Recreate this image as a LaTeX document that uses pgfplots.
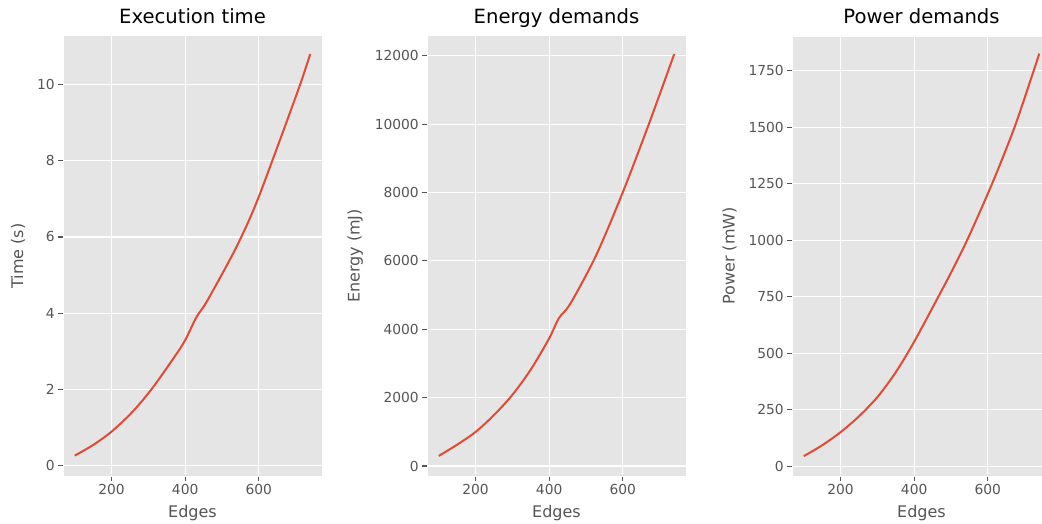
\documentclass[border=0pt]{standalone}
\usepackage{pgfplots}
\pgfplotsset{compat=1.18}
\usepackage{fontspec}
\setmainfont{DejaVu Sans}
\definecolor{ggbg}{HTML}{E5E5E5}
\definecolor{ggred}{HTML}{E24A33}
\definecolor{gggray}{HTML}{555555}
\pgfplotsset{ggstyle/.style={
  scale only axis, width=259pt, height=440pt,
  axis background/.style={fill=ggbg},
  axis line style={white, line width=1pt},
  grid=major, major grid style={white, line width=1.1pt},
  tick align=outside, tick pos=left, major tick length=4.7pt,
  tick style={gggray, line width=1.1pt},
  ticklabel style={font=\fontsize{13.8}{15}\selectfont, text=gggray},
  /pgf/number format/assume math mode=true,
  /pgf/number format/set thousands separator={},
  scaled y ticks=false,
  label style={font=\fontsize{16}{18}\selectfont, text=gggray},
  ylabel shift=5pt, xlabel shift=4pt,
  title style={font=\fontsize{19.6}{22}\selectfont, text=black, text depth=0.3em},
  xmin=68, xmax=772, xtick={200,400,600},
  xlabel={Edges},
  anchor=south west,
}}
\begin{document}
\begin{tikzpicture}
\path[use as bounding box] (0,0) rectangle (1042pt,523pt);
\begin{axis}[ggstyle, at={(63pt,47pt)}, ymin=-0.275, ymax=11.275,
  ytick={0,2,4,6,8,10}, ylabel={Time (s)}, title={Execution time}]
\addplot[ggred, line width=2pt, no marks, smooth, tension=0.5] coordinates {
(100,0.26) (150,0.54) (200,0.89) (256,1.40) (310,2.02) (373,2.88) (400,3.29) (431,3.90)
(458,4.29) (528,5.52) (570,6.36) (600,7.05) (638,8.03) (675,9.00) (714,10.04)
(740,10.80)};
\end{axis}
\begin{axis}[ggstyle, at={(427pt,47pt)}, ymin=-292, ymax=12577,
  ytick={0,2000,4000,6000,8000,10000,12000}, ylabel={Energy (mJ)}, title={Energy demands}]
\addplot[ggred, line width=2pt, no marks, smooth, tension=0.5] coordinates {
(100,295) (150,625) (200,996) (250,1490) (300,2080) (350,2820) (400,3730) (426,4316) (458,4755)
(528,6169) (600,8000) (671,10000) (740,12050)};
\end{axis}
\begin{axis}[ggstyle, at={(792pt,47pt)}, ymin=-44, ymax=1903,
  ytick={0,250,500,750,1000,1250,1500,1750}, ylabel={Power (mW)}, title={Power demands}]
\addplot[ggred, line width=2pt, no marks, smooth, tension=0.5] coordinates {
(100,44) (150,92) (200,150) (250,220) (300,305) (350,415) (400,550) (466,750) (500,855)
(545,1003) (612,1250) (673,1500) (725,1750) (740,1825)};
\end{axis}
\end{tikzpicture}
\end{document}
